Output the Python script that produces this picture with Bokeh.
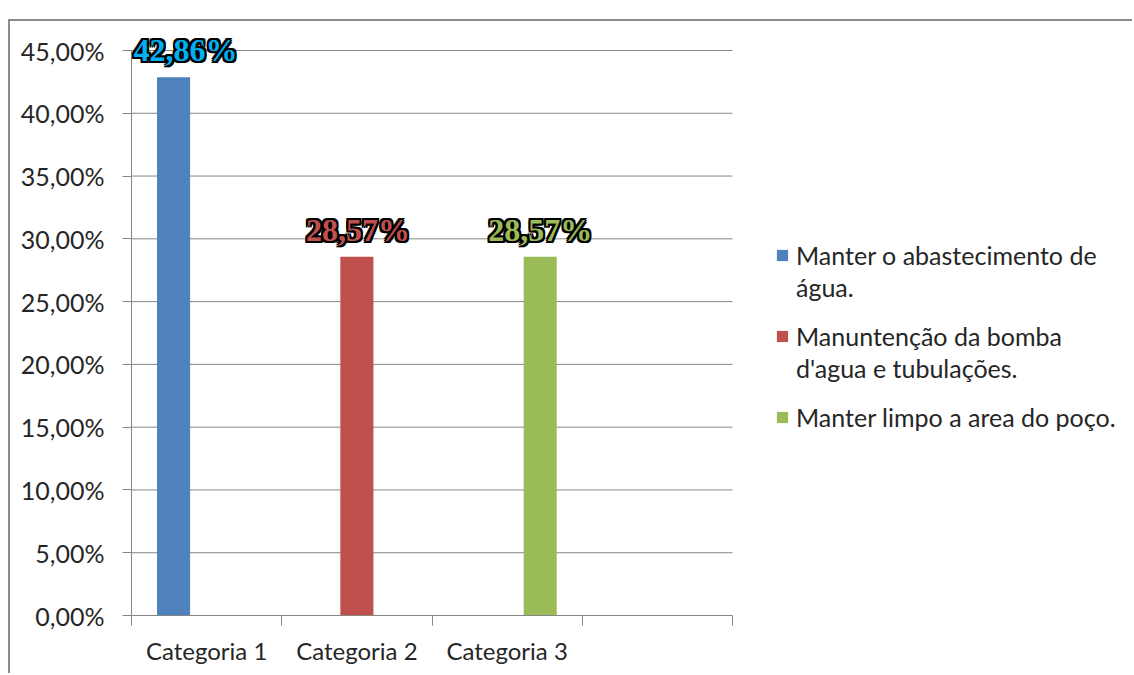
from bokeh.plotting import figure
from bokeh.models import (ColumnDataSource, Range1d, FixedTicker, CustomJSTickFormatter,
                          Legend, LegendItem, LabelSet)
from bokeh.embed import file_html
from bokeh.resources import INLINE

# ---------------- data ----------------
categories = ["Categoria 1", "Categoria 2", "Categoria 3"]
n_slots = 4  # Excel axis shows an extra empty slot
series_names = ["Manter o abastecimento de\nágua.",
                "Manuntenção da bomba\nd'agua e tubulações.",
                "Manter limpo a area do poço."]
series_values = [0.4286, 0.2857, 0.2857]
series_category = [0, 1, 2]
bar_colors = ["#4F81BD", "#C0504D", "#9BBB59"]
label_colors = ["#00B0F0", "#C0504D", "#9BBB59"]
label_dx = [12, 1, 0]   # small horizontal nudges of the value labels (px)
y_ticks = [0.00, 0.05, 0.10, 0.15, 0.20, 0.25, 0.30, 0.35, 0.40, 0.45]

# ---------------- style ----------------
FONT = "Lato"
LABEL_FONT = "Roboto"
GRID = "#868686"
TEXT = "#262626"
BAR_W = 0.22

W, H = 1124, 654
LEFT, TOP, BOTTOM = 121, 1, 60
plot_w = W - LEFT            # frame runs to the right edge (legend sits inside)
plot_h = H - TOP - BOTTOM
axis_px = 601.0              # pixel length of the category axis
axis_py = 565.0              # pixel height of 0..45 %
x_end = n_slots * plot_w / axis_px
y_end = y_ticks[-1] * plot_h / axis_py

p = figure(width=W, height=H, output_backend="svg", toolbar_location=None,
           x_range=Range1d(0, x_end), y_range=Range1d(0, y_end),
           min_border_left=LEFT, min_border_right=0, min_border_top=TOP,
           min_border_bottom=BOTTOM,
           styles={"margin-left": "8px", "margin-top": "19px",
                   "border-left": "2px solid #8c8c8c",
                   "border-top": "2px solid #8c8c8c"})
p.outline_line_color = None
p.background_fill_color = "white"
p.border_fill_color = "white"
p.xgrid.grid_line_color = None
p.ygrid.grid_line_color = None

# gridlines limited to the category axis span
p.segment(x0=[0] * len(y_ticks[1:]), x1=[n_slots] * len(y_ticks[1:]),
          y0=y_ticks[1:], y1=y_ticks[1:], line_color=GRID, line_width=1)

# x axis
xa = p.xaxis[0]
xa.bounds = (0, n_slots)
xa.ticker = FixedTicker(ticks=[i + 0.5 for i in range(len(categories))],
                        minor_ticks=list(range(n_slots + 1)))
xa.major_label_overrides = {i + 0.5: c for i, c in enumerate(categories)}
xa.major_tick_line_color = None
xa.minor_tick_line_color = GRID
xa.minor_tick_in = 0
xa.minor_tick_out = 10
xa.axis_line_color = GRID
xa.major_label_text_font = FONT
xa.major_label_text_font_size = "24px"
xa.major_label_text_color = TEXT
xa.major_label_standoff = 10

# y axis
ya = p.yaxis[0]
ya.bounds = (0, y_ticks[-1])
ya.ticker = FixedTicker(ticks=y_ticks, minor_ticks=[])
ya.formatter = CustomJSTickFormatter(
    code="return (tick*100).toFixed(2).replace('.', ',') + '%';")
ya.major_tick_line_color = GRID
ya.major_tick_in = 0
ya.major_tick_out = 9
ya.axis_line_color = GRID
ya.major_label_text_font = FONT
ya.major_label_text_font_size = "25px"
ya.major_label_text_color = TEXT
ya.major_label_standoff = 18

# legend geometry (screen px, relative to the plot frame)
LEG_X = 644
LINE_H = 32
LEG_GAP = 17
frame_bottom_page = 615
leg_top_page = 239

for i, (name, v, c) in enumerate(zip(series_names, series_values, series_category)):
    x = c + 0.5 + (i - 1) * BAR_W
    src = ColumnDataSource(dict(x=[x], top=[v],
                                lab=[f"{v*100:.2f}".replace(".", ",") + "%"]))
    r = p.vbar(x="x", top="top", width=BAR_W, bottom=0, source=src,
               fill_color=bar_colors[i], line_color=None)
    # black outline copies, then the coloured label on top
    offsets = [(-2, 0), (2, 0), (0, -2), (0, 2), (-2, -2), (2, 2), (-2, 2), (2, -2), (0, 0)]
    for k, (dx, dy) in enumerate(offsets):
        last = k == len(offsets) - 1
        p.add_layout(LabelSet(x="x", y="top", text="lab", source=src,
                              x_offset=label_dx[i] + dx, y_offset=16 + dy,
                              text_align="center", text_baseline="alphabetic",
                              text_font=LABEL_FONT, text_font_style="bold",
                              text_font_size="32px",
                              text_color=label_colors[i] if last else "black"))

    # one legend per series; continuation lines use an invisible swatch
    lines = name.split("\n")
    items = [LegendItem(label=lines[0], renderers=[r])]
    for extra in lines[1:]:
        ghost = p.vbar(x=[], top=[], width=BAR_W, fill_alpha=0, line_alpha=0)
        items.append(LegendItem(label=extra, renderers=[ghost]))
    leg_h = LINE_H * len(lines)
    y_loc = frame_bottom_page - (leg_top_page + leg_h)
    leg = Legend(items=items, location=(LEG_X, y_loc), margin=0, padding=0,
                 spacing=0, glyph_width=14, glyph_height=14, label_standoff=7,
                 label_height=LINE_H, label_text_font=FONT,
                 label_text_font_size="25px", label_text_color=TEXT,
                 label_text_line_height=1.2,
                 border_line_color=None, background_fill_alpha=0)
    p.add_layout(leg)
    leg_top_page += leg_h + LEG_GAP

open("out.html", "w").write(file_html(p, INLINE))
